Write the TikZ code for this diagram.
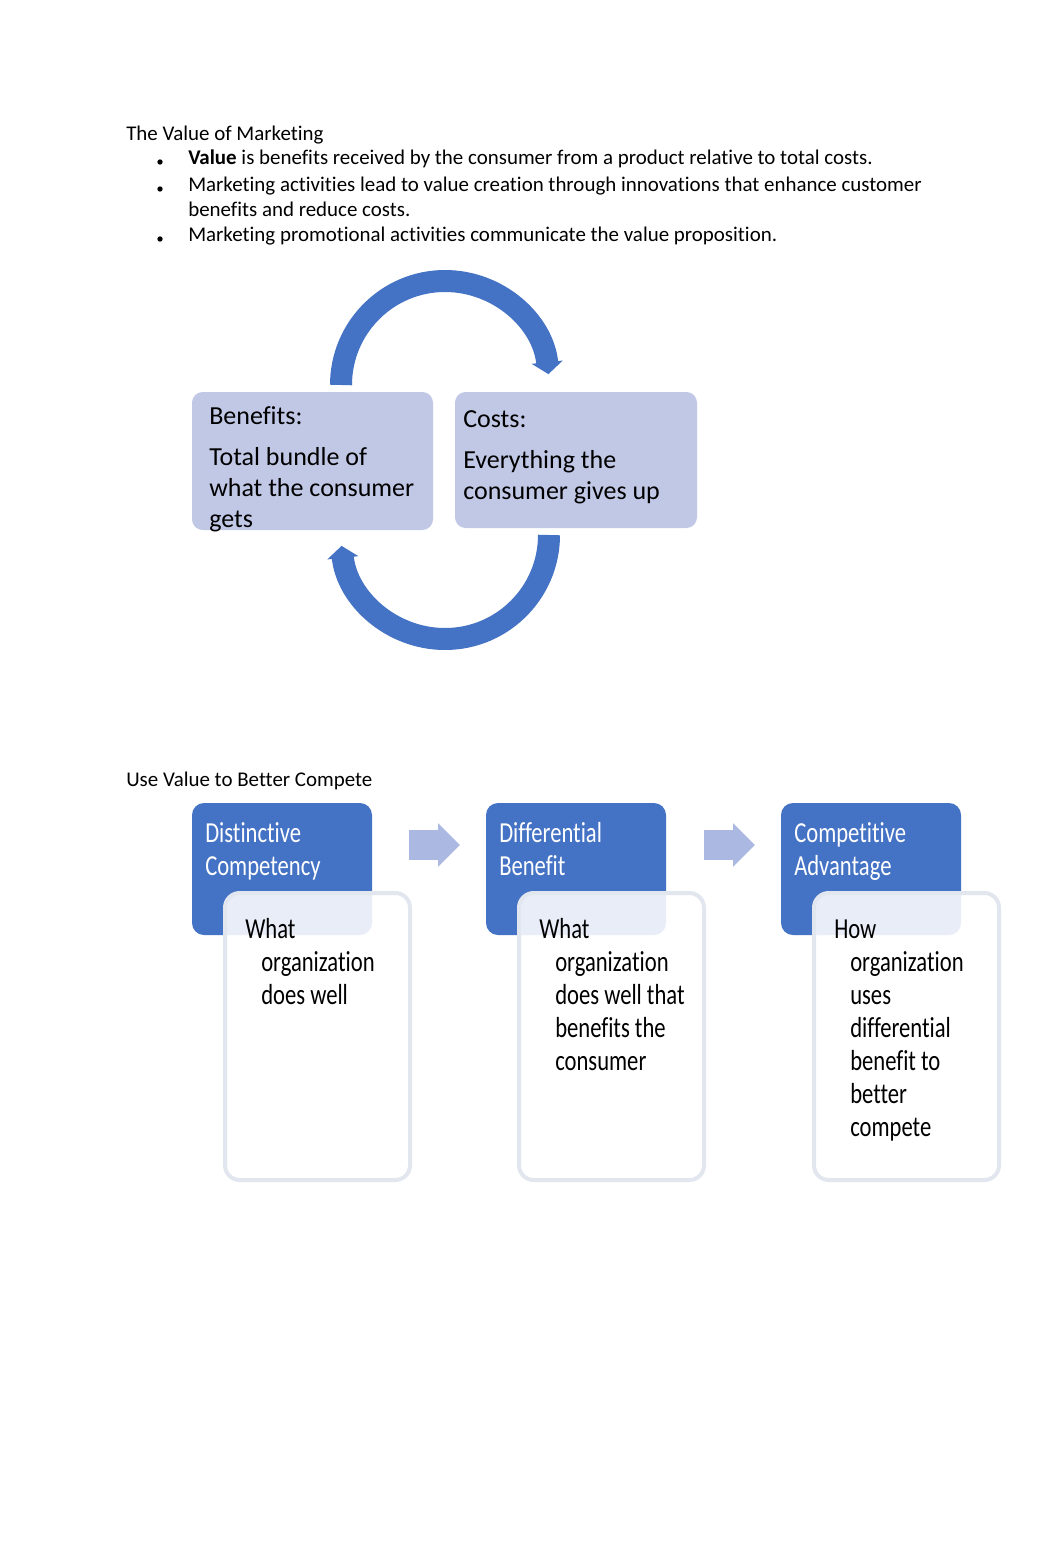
\documentclass[tikz,border=0pt]{standalone}
\usepackage{fontspec}
\setmainfont{Carlito}[Ligatures=NoCommon]
\newfontfamily\narrowfont{Carlito}[FakeStretch=0.78, Ligatures=NoCommon]
\usetikzlibrary{shapes.arrows,arrows.meta}
\definecolor{accblue}{HTML}{4472C4}
\definecolor{tintblue}{HTML}{C1C8E6}
\definecolor{linktint}{HTML}{AAB8E2}
\definecolor{edgetint}{HTML}{E2E7EF}
\newcommand{\hang}{\hspace*{12pt}}

\begin{document}
\begin{tikzpicture}[x=0.75pt, y=-0.75pt,
  doctext/.style={anchor=base west, inner sep=0pt, align=left, font=\fontsize{15.7}{18.75}\selectfont},
  cyclebox/.style={fill=tintblue, rounded corners=8pt},
  cycletext/.style={anchor=base west, inner sep=0pt, align=left, font=\fontsize{19.5}{22.9}\selectfont},
  cyclearc/.style={draw=accblue, line width=16.5pt, -{Triangle[width=23pt, length=9pt]}},
  headbox/.style={fill=accblue, rounded corners=9pt},
  descbox/.style={fill=white, fill opacity=0.88, draw=edgetint, line width=3pt, rounded corners=11pt},
  headtext/.style={anchor=base west, inner sep=0pt, align=left, text=white, font=\narrowfont\fontsize{21.75}{24.75}\selectfont},
  desctext/.style={anchor=base west, inner sep=0pt, align=left, font=\narrowfont\fontsize{21.75}{24.75}\selectfont},
  linkarrow/.style={shape=single arrow, fill=linktint, inner sep=0pt, text width=0pt, text height=11pt, text depth=11pt, minimum height=38pt, single arrow head extend=5pt}]
\useasboundingbox[fill=white] (0,0) rectangle (1062,1556);

% the value of marketing
\node[doctext] (title1) at (126,140) {The Value of Marketing};
\foreach \yb in {162,189,239}
  \fill (160,\yb) circle (2pt);
\node[doctext] (point1) at (188,164) {\textbf{Value} is benefits received by the consumer from a product relative to total costs.};
\node[doctext] (point2) at (188,216) {Marketing activities lead to value creation through innovations that enhance customer\\benefits and reduce costs.};
\node[doctext] (point3) at (188,241) {Marketing promotional activities communicate the value proposition.};

% benefits / costs cycle
\coordinate (hubtop) at (445,385);
\coordinate (hubbot) at (445,535);
\draw[cyclearc] (hubtop) ++(180:104) arc[start angle=180, end angle=354, radius=104];
\draw[cyclearc] (hubbot) ++(0:104) arc[start angle=0, end angle=174, radius=104];
\path[cyclebox] (192,392) rectangle (433,530);
\path[cyclebox] (455,392) rectangle (697,528);
\node[cycletext] (benefits) at (209,527) {Benefits:\\[8pt]Total bundle of\\what the consumer\\gets};
\node[cycletext] (costs) at (463,499) {Costs:\\[8pt]Everything the\\consumer gives up};

% use value to better compete
\node[doctext] (title2) at (126,786) {Use Value to Better Compete};
\foreach \bx/\id/\by/\head/\body in {
  192/1/1004/{Distinctive\\Competency}/{What\\\hang organization\\\hang does well},
  486/2/1070/{Differential\\Benefit}/{What\\\hang organization\\\hang does well that\\\hang benefits the\\\hang consumer},
  781/3/1136/{Competitive\\Advantage}/{How\\\hang organization\\\hang uses\\\hang differential\\\hang benefit to\\\hang better\\\hang compete}} {
  \path[headbox] (\bx,803) rectangle (\bx+180,935);
  \path[descbox] (\bx+33,893) rectangle (\bx+218,1180);
  \node[headtext] (head\id) at (\bx+13,875) {\head};
  \node[desctext] (desc\id) at (\bx+53,\by) {\body};
}
\node[linkarrow] (link1) at (427,845) {};
\node[linkarrow] (link2) at (722,845) {};
\end{tikzpicture}
\end{document}
